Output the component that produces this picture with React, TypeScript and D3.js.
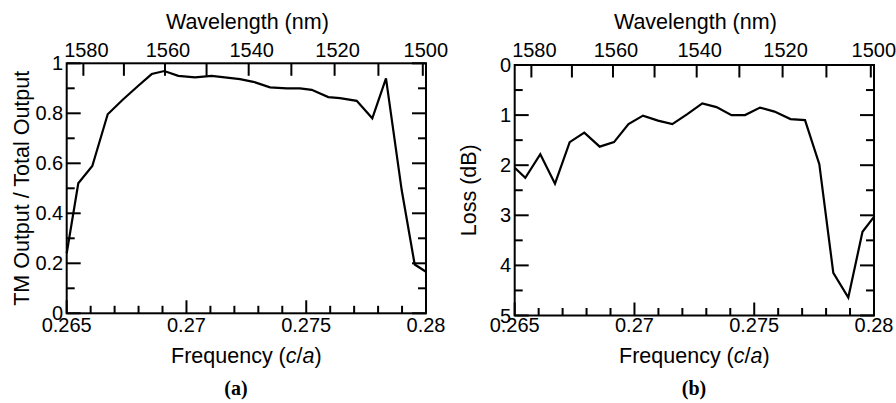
import React from 'react';
import * as d3 from 'd3';

// ---- Data ----
const freqTM = [0.265, 0.265484, 0.266069, 0.266712, 0.26735, 0.267989, 0.268549, 0.269075, 0.269659, 0.270356, 0.271053, 0.272235, 0.27279, 0.273487, 0.274184, 0.27474, 0.275228, 0.275921, 0.27641, 0.277107, 0.277758, 0.27833, 0.278985, 0.279528, 0.28];
const tmRatio = [0.24, 0.52, 0.589, 0.796, 0.855, 0.91, 0.957, 0.969, 0.95, 0.944, 0.95, 0.937, 0.926, 0.904, 0.9, 0.9, 0.894, 0.865, 0.861, 0.85, 0.78, 0.94, 0.493, 0.195, 0.166];

const freqLoss = [0.265, 0.265443, 0.266069, 0.266682, 0.267296, 0.267906, 0.268549, 0.269146, 0.269751, 0.270356, 0.270982, 0.27158, 0.272206, 0.272832, 0.273425, 0.274051, 0.274615, 0.275241, 0.275846, 0.276514, 0.27712, 0.277717, 0.278301, 0.278927, 0.27952, 0.28];
const lossDb = [2.05, 2.25, 1.78, 2.37, 1.54, 1.35, 1.63, 1.54, 1.18, 1.01, 1.11, 1.18, 0.98, 0.765, 0.84, 1.0, 1.0, 0.85, 0.93, 1.08, 1.1, 1.98, 4.15, 4.64, 3.33, 3.03];

const freqTicks = [0.265, 0.27, 0.275, 0.28];
const wavelengthTicks = [1580, 1570, 1560, 1550, 1540, 1530, 1520, 1510, 1500];
const wavelengthLabels = [1580, 1560, 1540, 1520, 1500];
const tmTicks = [0, 0.2, 0.4, 0.6, 0.8, 1];
const lossTicks = [0, 1, 2, 3, 4, 5];
const LATTICE_NM = 419.8; // wavelength = a / f

const SANS = "'Liberation Sans', Arial, Helvetica, sans-serif";
const SERIF = "'Liberation Serif', 'Times New Roman', serif";

type PanelProps = {
  left: number; right: number; top: number; bottom: number;
  yDomain: [number, number];
  yMajor: number[]; yMinorStep: number;
  xs: number[]; ys: number[];
  yTitle: string; titleX: number;
  yFmt: (v: number) => string;
  panelLabel: string; panelLabelX: number;
};

function Panel(p: PanelProps) {
  const x = d3.scaleLinear().domain([0.265, 0.28]).range([p.left, p.right]);
  const y = d3.scaleLinear().domain(p.yDomain).range([p.top, p.bottom]);
  const xMinor = d3.range(0, 16).map(i => 0.265 + i * 0.001);
  const yLo = Math.min(...p.yDomain), yHi = Math.max(...p.yDomain);
  const nMinor = Math.round((yHi - yLo) / p.yMinorStep);
  const yMinor = d3.range(0, nMinor + 1).map(i => yLo + i * p.yMinorStep);
  const isMajorY = (v: number) => p.yMajor.some(m => Math.abs(m - v) < 1e-9);
  const isMajorX = (v: number) => freqTicks.some(m => Math.abs(m - v) < 1e-9);
  const line = d3.line<number>().x((_, i) => x(p.xs[i])).y(d => y(d));
  const wx = (w: number) => x(LATTICE_NM / w);
  const midX = (p.left + p.right) / 2;
  const midY = (p.top + p.bottom) / 2;
  const sw = 2;
  return (
    <g>
      {/* bottom frequency ticks */}
      {xMinor.map((f, i) => {
        const len = isMajorX(f) ? 13 : 7.5;
        return <line key={'bx' + i} x1={x(f)} x2={x(f)} y1={p.bottom} y2={p.bottom - len} stroke="#000" strokeWidth={sw} />;
      })}
      {/* top wavelength ticks */}
      {wavelengthTicks.map(w => (
        <line key={'tw' + w} x1={wx(w)} x2={wx(w)} y1={p.top} y2={p.top + 12.5} stroke="#000" strokeWidth={sw} />
      ))}
      {/* y ticks both sides */}
      {yMinor.map((v, i) => {
        const len = isMajorY(v) ? 14 : 8;
        return (
          <g key={'yt' + i}>
            <line x1={p.left} x2={p.left + len} y1={y(v)} y2={y(v)} stroke="#000" strokeWidth={sw} />
            <line x1={p.right} x2={p.right - len} y1={y(v)} y2={y(v)} stroke="#000" strokeWidth={sw} />
          </g>
        );
      })}
      {/* data */}
      <path d={line(p.ys) || ''} fill="none" stroke="#000" strokeWidth={2.2} strokeLinejoin="miter" />
      {/* frame */}
      <rect x={p.left} y={p.top} width={p.right - p.left} height={p.bottom - p.top} fill="none" stroke="#000" strokeWidth={sw} />
      {/* labels */}
      <g fontFamily={SANS} fontSize={20} fill="#000">
        {freqTicks.map(f => (
          <text key={'bl' + f} x={x(f)} y={332} textAnchor="middle">{String(+f.toFixed(3))}</text>
        ))}
        {wavelengthLabels.map(w => (
          <text key={'tl' + w} x={wx(w) + 3} y={56.7} textAnchor="middle">{w}</text>
        ))}
        {p.yMajor.map(v => (
          <text key={'yl' + v} x={p.left - 3.5} y={y(v)} dy="0.35em" textAnchor="end">{p.yFmt(v)}</text>
        ))}
      </g>
      <g fontFamily={SANS} fontSize={21.5} fill="#000">
        <text x={midX + 1} y={28.5} textAnchor="middle">Wavelength (nm)</text>
        <text x={midX} y={363} textAnchor="middle">
          Frequency (<tspan fontStyle="italic">c</tspan>/<tspan fontStyle="italic">a</tspan>)
        </text>
        <text transform={`translate(${p.titleX},${midY}) rotate(-90)`} textAnchor="middle">{p.yTitle}</text>
      </g>
      <text x={p.panelLabelX} y={395} textAnchor="middle" fontFamily={SERIF} fontWeight="bold" fontSize={20}>{p.panelLabel}</text>
    </g>
  );
}

export default function App() {
  const fmtTM = (v: number) => (v === 0 ? '0' : v === 1 ? '1' : d3.format('.1f')(v));
  const fmtLoss = (v: number) => String(v);
  return (
    <svg width={896} height={403} style={{ position: 'absolute', left: 0, top: 0, background: '#fff' }}>
      <rect width={896} height={403} fill="#fff" />
      <Panel left={66.7} right={426} top={63.3} bottom={313.3} yDomain={[1, 0]}
        yMajor={tmTicks} yMinorStep={0.1} xs={freqTM} ys={tmRatio}
        yTitle="TM Output / Total Output" titleX={28.5} yFmt={fmtTM}
        panelLabel="(a)" panelLabelX={236} />
      <Panel left={514.7} right={874} top={65} bottom={315.5} yDomain={[0, 5]}
        yMajor={lossTicks} yMinorStep={0.5} xs={freqLoss} ys={lossDb}
        yTitle="Loss (dB)" titleX={476.3} yFmt={fmtLoss}
        panelLabel="(b)" panelLabelX={694} />
    </svg>
  );
}
